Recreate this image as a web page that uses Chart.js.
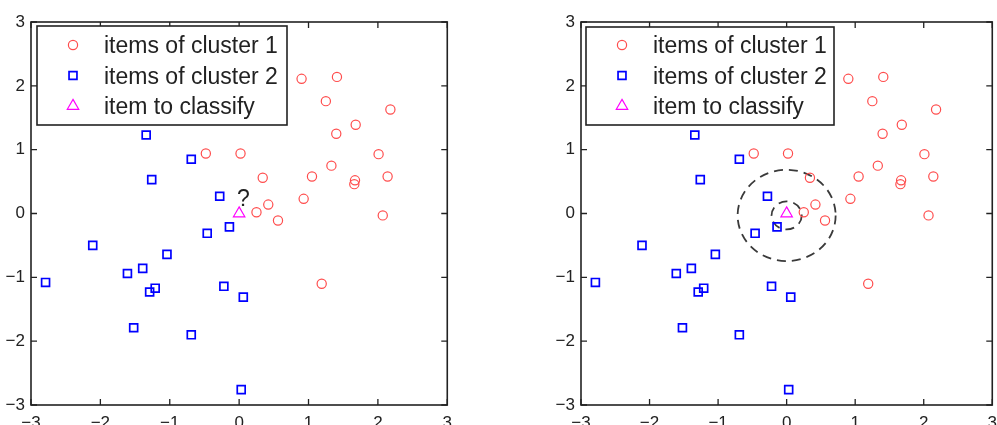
<!DOCTYPE html>
<html>
<head>
<meta charset="utf-8">
<script src="https://cdn.jsdelivr.net/npm/chart.js@4.4.1/dist/chart.umd.min.js"></script>
<style>
  html, body { margin: 0; padding: 0; background: #fff; overflow: hidden; }
  #wrap { position: relative; width: 997px; height: 425px; overflow: hidden; }
  canvas { position: absolute; top: 0; }
  #c1 { left: 0px; }
  #c2 { left: 530px; }
</style>
</head>
<body>
<div id="wrap">
  <canvas id="c1" width="460" height="425"></canvas>
  <canvas id="c2" width="475" height="425"></canvas>
</div>
<script>
// ---- data ----
const cluster1X = [0.90, 1.41, 1.25, 2.18, 1.68, 1.40, -0.48, 0.02, 2.01, 1.33, 0.34, 1.05, 1.67, 1.66, 2.14, 0.93, 0.42, 0.25, 0.56, 2.07, 1.19];
const cluster1Y = [2.11, 2.14, 1.76, 1.63, 1.39, 1.25, 0.94, 0.94, 0.93, 0.75, 0.56, 0.58, 0.52, 0.46, 0.58, 0.23, 0.14, 0.02, -0.11, -0.03, -1.10];
const cluster2X = [-1.34, -0.69, -1.26, -0.28, -0.14, -0.46, -2.11, -1.04, -1.39, -1.61, -2.79, -1.21, -1.29, -0.22, 0.06, -1.52, -0.69, 0.03];
const cluster2Y = [1.23, 0.85, 0.53, 0.27, -0.21, -0.31, -0.50, -0.64, -0.86, -0.94, -1.08, -1.17, -1.23, -1.14, -1.31, -1.79, -1.90, -2.76];
const queryX = [0];
const queryY = [0];
const tickValues = [-3, -2, -1, 0, 1, 2, 3];
const legendLabels = ['items of cluster 1', 'items of cluster 2', 'item to classify'];
const questionText = ['?'];
const questionPos = [0.06, 0.12];          // data coords (x, baseline y)
const neighbourCenter = [0, -0.03];         // data coords
const neighbourRadii = [0.715, 0.22];       // data units

const FONT = "'Liberation Sans', Arial, Helvetica, sans-serif";
const INK = '#222';
const RED = '#ff4d4d', BLUE = '#0000ff', MAGENTA = '#ff00ff';

function pts(xs, ys) { return xs.map((x, i) => ({ x: x, y: ys[i] })); }
function fmt(v) { return v < 0 ? '\u2212' + Math.abs(v) : String(v); }

function drawMarker(ctx, style, x, y, r, color, lw) {
  ctx.save();
  ctx.strokeStyle = color; ctx.lineWidth = lw; ctx.setLineDash([]);
  ctx.beginPath();
  if (style === 'circle') {
    ctx.arc(x, y, r, 0, Math.PI * 2);
  } else if (style === 'rect') {
    const s = Math.SQRT1_2 * r;
    ctx.rect(x - s, y - s, 2 * s, 2 * s);
  } else {
    for (let k = 0; k < 3; k++) {
      const ang = -Math.PI / 2 + k * 2 * Math.PI / 3;
      const px = x + r * Math.cos(ang), py = y + r * Math.sin(ang);
      if (k === 0) ctx.moveTo(px, py); else ctx.lineTo(px, py);
    }
    ctx.closePath();
  }
  ctx.stroke();
  ctx.restore();
}

const markers = [
  { style: 'circle', r: 4.6, color: RED, lw: 1.2 },
  { style: 'rect', r: 5.6, color: BLUE, lw: 1.7 },
  { style: 'triangle', r: 6.6, color: MAGENTA, lw: 1.2 }
];

function makeChart(id, opts) {
  const frame = {
    id: 'frame',
    beforeDatasetsDraw(chart) {
      if (!opts.circles) return;
      const { ctx, scales: { x, y } } = chart;
      const cx = x.getPixelForValue(neighbourCenter[0]);
      const cy = y.getPixelForValue(neighbourCenter[1]);
      ctx.save();
      ctx.strokeStyle = '#3a3a3a';
      ctx.lineWidth = 1.8;
      ctx.setLineDash([9, 6]);
      neighbourRadii.forEach(r => {
        const rx = x.getPixelForValue(neighbourCenter[0] + r) - cx;
        const ry = cy - y.getPixelForValue(neighbourCenter[1] + r);
        ctx.beginPath();
        ctx.ellipse(cx, cy, rx, ry, 0, 0, Math.PI * 2);
        ctx.stroke();
      });
      ctx.restore();
    },
    afterDraw(chart) {
      const { ctx, chartArea: a, scales: { x, y } } = chart;
      ctx.save();
      ctx.strokeStyle = INK;
      ctx.lineWidth = 1.6;
      ctx.setLineDash([]);
      ctx.strokeRect(a.left, a.top, a.right - a.left, a.bottom - a.top);
      ctx.lineWidth = 1.3;
      const tl = 6;
      ctx.beginPath();
      tickValues.forEach(v => {
        const px = x.getPixelForValue(v);
        ctx.moveTo(px, a.bottom); ctx.lineTo(px, a.bottom - tl);
        ctx.moveTo(px, a.top); ctx.lineTo(px, a.top + tl);
        const py = y.getPixelForValue(v);
        ctx.moveTo(a.left, py); ctx.lineTo(a.left + tl, py);
        ctx.moveTo(a.right, py); ctx.lineTo(a.right - tl, py);
      });
      ctx.stroke();

      // question mark annotation
      if (opts.question) {
        ctx.fillStyle = INK;
        ctx.font = '23px ' + FONT;
        ctx.textAlign = 'center';
        ctx.textBaseline = 'alphabetic';
        ctx.fillText(questionText[0], x.getPixelForValue(questionPos[0]), y.getPixelForValue(questionPos[1]));
      }

      // legend box inside axes
      const L = opts.legend;
      const bx = a.left + L.dx, by = a.top + L.dy;
      ctx.fillStyle = '#fff';
      ctx.fillRect(bx, by, L.w, L.h);
      ctx.strokeStyle = INK;
      ctx.lineWidth = 1.6;
      ctx.strokeRect(bx, by, L.w, L.h);
      ctx.font = '23px ' + FONT;
      ctx.textAlign = 'left';
      ctx.textBaseline = 'alphabetic';
      ctx.fillStyle = INK;
      legendLabels.forEach((lab, i) => {
        const m = markers[i];
        drawMarker(ctx, m.style, a.left + L.mx, by + L.my0 + i * L.step, m.r, m.color, m.lw);
        ctx.fillText(lab, a.left + L.tx, by + L.ty0 + i * L.step);
      });
      ctx.restore();
    }
  };

  return new Chart(document.getElementById(id), {
    type: 'scatter',
    data: {
      datasets: [
        { label: legendLabels[0], data: pts(cluster1X, cluster1Y), pointStyle: 'circle', pointRadius: markers[0].r,
          borderColor: RED, backgroundColor: 'rgba(0,0,0,0)', pointBorderWidth: markers[0].lw },
        { label: legendLabels[1], data: pts(cluster2X, cluster2Y), pointStyle: 'rect', pointRadius: markers[1].r,
          borderColor: BLUE, backgroundColor: 'rgba(0,0,0,0)', pointBorderWidth: markers[1].lw },
        { label: legendLabels[2], data: pts(queryX, queryY), pointStyle: 'triangle', pointRadius: markers[2].r,
          borderColor: MAGENTA, backgroundColor: 'rgba(0,0,0,0)', pointBorderWidth: markers[2].lw }
      ]
    },
    options: {
      responsive: false,
      animation: false,
      devicePixelRatio: 1,
      layout: { padding: { top: 22, right: opts.padRight, left: 0, bottom: 0 } },
      plugins: { legend: { display: false }, tooltip: { enabled: false } },
      elements: { point: { hoverRadius: 0 } },
      scales: {
        x: {
          type: 'linear', min: -3, max: 3,
          grid: { display: false, drawTicks: false }, border: { display: false },
          ticks: { stepSize: 1, autoSkip: false, maxRotation: 0, padding: 8, color: INK,
                   font: { size: 17, family: FONT }, callback: fmt },
          afterFit: s => { s.height = 20; }
        },
        y: {
          type: 'linear', min: -3, max: 3,
          grid: { display: false, drawTicks: false }, border: { display: false },
          ticks: { stepSize: 1, autoSkip: false, padding: 6, color: INK,
                   font: { size: 17, family: FONT }, callback: fmt },
          afterFit: s => { s.width = opts.yWidth; }
        }
      }
    },
    plugins: [frame]
  });
}

makeChart('c1', {
  yWidth: 31, padRight: 11, question: true, circles: false,
  legend: { dx: 6, dy: 4, w: 250, h: 99, mx: 42, tx: 73, my0: 19, ty0: 27, step: 30.5 }
});
makeChart('c2', {
  yWidth: 51, padRight: 7, question: false, circles: true,
  legend: { dx: 5, dy: 5, w: 248, h: 98, mx: 41, tx: 72, my0: 18, ty0: 26, step: 30.5 }
});
</script>
</body>
</html>
